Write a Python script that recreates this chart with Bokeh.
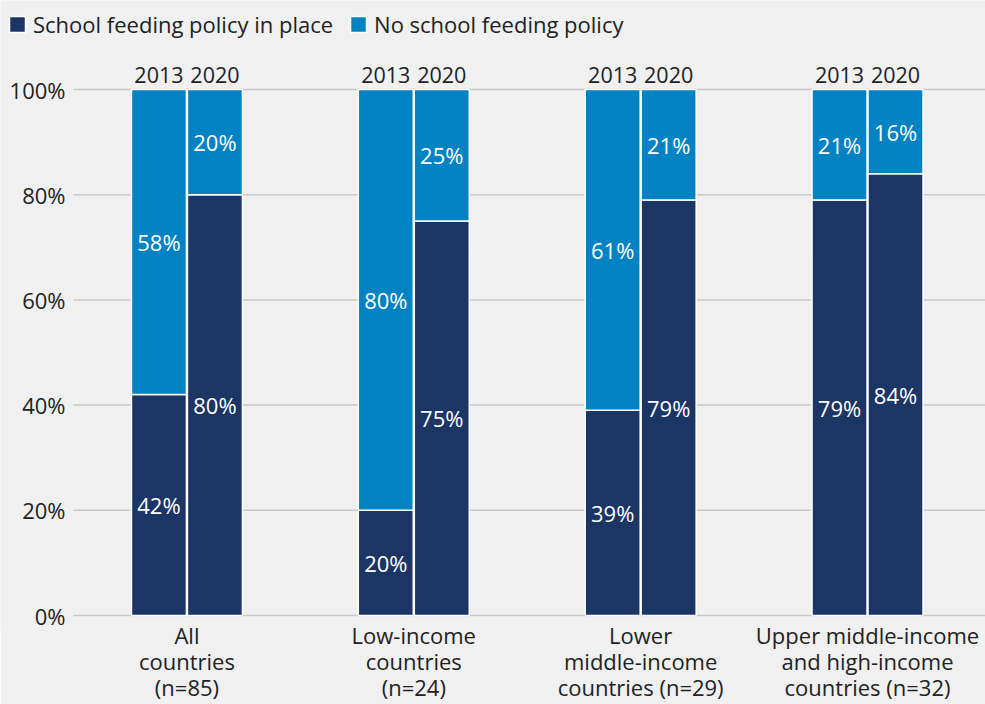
from bokeh.plotting import figure
from bokeh.models import (ColumnDataSource, Range1d, FixedTicker, Legend, LegendItem)
from bokeh.core.properties import value
from bokeh.embed import file_html
from bokeh.resources import INLINE

# ---- data ----
groups = ["All\ncountries\n(n=85)",
          "Low-income\ncountries\n(n=24)",
          "Lower\nmiddle-income\ncountries (n=29)",
          "Upper middle-income\nand high-income\ncountries (n=32)"]
years = ["2013", "2020"]
policy_2013 = [42, 20, 39, 79]
policy_2020 = [80, 75, 79, 84]
none_2013 = [58, 80, 61, 21]
none_2020 = [20, 25, 21, 16]
series_names = ["School feeding policy in place", "No school feeding policy"]
y_ticks = [0, 20, 40, 60, 80, 100]
y_tick_labels = [f"{t}%" for t in y_ticks]

# ---- style ----
DARK = "#1b3564"
LIGHT = "#0082c3"
BG = "#eff0ef"
GRID = "#c8c8c8"
TXT = "#222222"
FONT = "Open Sans"
FS = "22px"
COLORS = [DARK, LIGHT]

W, H = 985, 704
AX_LEFT = 73        # pixel where the value axis begins
AX_TOP = 89         # pixel of the 100% line
ZERO_PX = 615       # pixel of the 0% line
BOTTOM = 77         # room for the category labels
FRAME_H = H - BOTTOM
X_END = 4.02
UNIT_X = (W - AX_LEFT) / X_END
X_START = -AX_LEFT / UNIT_X
UNIT_Y = (ZERO_PX - AX_TOP) / 100
Y_START = -(FRAME_H - ZERO_PX) / UNIT_Y
Y_END = ZERO_PX / UNIT_Y

OFF = 0.1234   # half distance between the two bars of a group
BW = 0.2424    # bar width

xs, pol, non, yr = [], [], [], []
for i in range(len(groups)):
    for j, (p_list, n_list) in enumerate([(policy_2013, none_2013), (policy_2020, none_2020)]):
        xs.append(i + 0.5 + (OFF if j else -OFF))
        pol.append(p_list[i])
        non.append(n_list[i])
        yr.append(years[j])

src = ColumnDataSource(dict(x=xs, policy=pol, none=non, year=yr))

p = figure(width=W, height=H, output_backend="svg", toolbar_location=None,
           x_range=Range1d(X_START, X_END), y_range=Range1d(Y_START, Y_END),
           y_axis_location=None,
           min_border_left=0, min_border_right=0,
           min_border_top=0, min_border_bottom=BOTTOM)
p.background_fill_color = BG
p.border_fill_color = BG
p.outline_line_color = None
p.grid.visible = False

# horizontal grid lines (start at the value axis)
p.segment(x0=0, x1=X_END, y0=y_ticks, y1=y_ticks, line_color=GRID, line_width=1.5)

# value-axis labels
p.text(x=[0] * len(y_ticks), y=y_ticks, text=y_tick_labels, x_offset=-8,
       text_color=TXT, text_font=value(FONT), text_font_size=FS,
       text_align="right", text_baseline="middle")

rs = p.vbar_stack(["policy", "none"], x="x", width=BW, color=COLORS,
                  line_color="white", line_width=1.5, source=src)

# segment labels
lx, ly, lt = [], [], []
for x, a, b in zip(xs, pol, non):
    lx += [x, x]
    ly += [a / 2, a + b / 2]
    lt += [f"{a}%", f"{b}%"]
p.text(x=lx, y=ly, text=lt, text_color="white", text_font=value(FONT),
       text_font_size=FS, text_align="center", text_baseline="middle")

# year labels above each bar
p.text(x=xs, y=[100] * len(xs), text=yr, y_offset=-14.5,
       text_color=TXT, text_font=value(FONT), text_font_size="21.5px",
       text_align="center", text_baseline="middle")

# x axis (groups)
xa = p.xaxis[0]
gpos = [i + 0.5 for i in range(len(groups))]
xa.ticker = FixedTicker(ticks=gpos)
xa.major_label_overrides = {g: lab for g, lab in zip(gpos, groups)}
xa.axis_line_color = None
xa.major_tick_line_color = None
xa.minor_tick_line_color = None
xa.major_tick_out = 0
xa.major_label_standoff = 4 - (FRAME_H - ZERO_PX)
xa.major_label_text_font = FONT
xa.major_label_text_font_size = FS
xa.major_label_text_color = TXT
xa.major_label_text_line_height = 0.87

# legend (location = bottom-left corner, relative to frame bottom-left)
lg = Legend(items=[LegendItem(label=n, renderers=[r]) for n, r in zip(series_names, rs)],
            location=(7, FRAME_H - 39))
lg.orientation = "horizontal"
lg.background_fill_alpha = 0
lg.border_line_color = None
lg.padding = 0
lg.margin = 0
lg.spacing = 15
lg.glyph_width = 20
lg.glyph_height = 20
lg.label_standoff = 6
lg.label_text_font = FONT
lg.label_text_font_size = FS
lg.label_text_color = TXT
p.add_layout(lg, "center")

open("out.html", "w").write(file_html(p, INLINE))
